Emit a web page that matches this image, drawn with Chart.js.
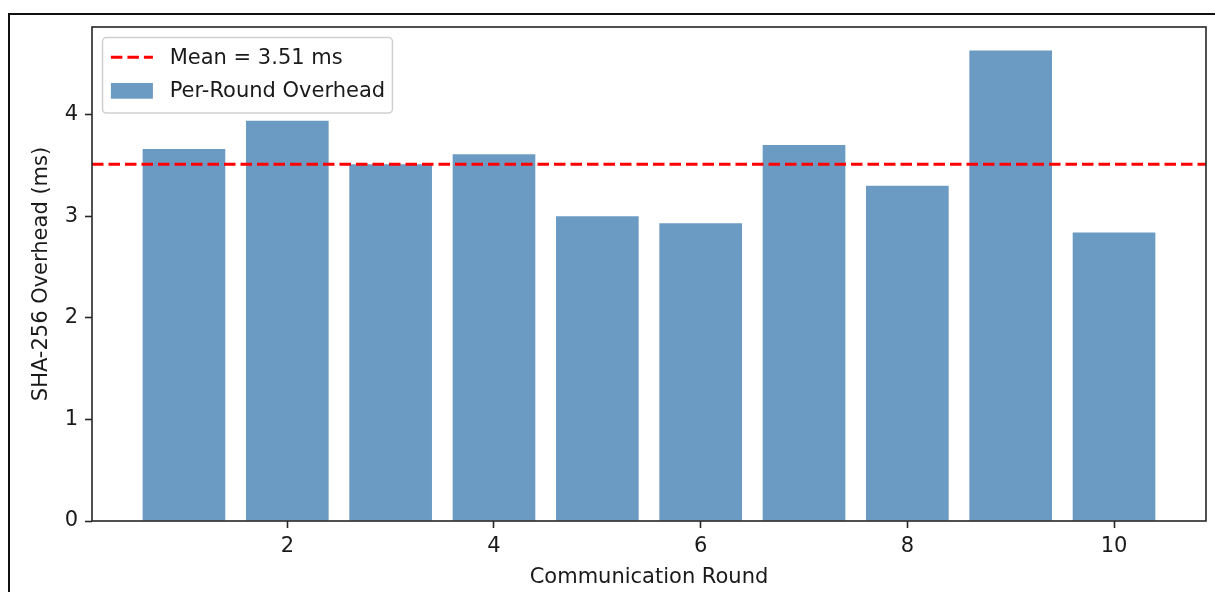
<!DOCTYPE html>
<html>
<head>
<meta charset="utf-8">
<title>SHA-256 Overhead per Communication Round</title>
<script src="https://cdn.jsdelivr.net/npm/chart.js@4.4.1/dist/chart.umd.min.js"></script>
<style>
  html, body { margin: 0; padding: 0; background: #ffffff; }
  #wrap { position: relative; width: 1215px; height: 592px; overflow: hidden; background: #ffffff; }
  #frame { position: absolute; left: 8px; top: 13px; width: 1400px; height: 800px;
           border-left: 2px solid #111111; border-top: 2px solid #111111; }
  #chart { position: absolute; left: 0; top: 0; }
</style>
</head>
<body>
<div id="wrap">
  <div id="frame"></div>
  <canvas id="chart" width="1215" height="592"></canvas>
</div>
<script>
// ---- data ----
const ROUNDS = [1, 2, 3, 4, 5, 6, 7, 8, 9, 10];
const OVERHEAD_MS = [3.66, 3.94, 3.51, 3.61, 3.00, 2.93, 3.70, 3.30, 4.63, 2.84];
const MEAN_MS = 3.51;
const X_TICKS = [2, 4, 6, 8, 10];
const Y_TICKS = [0, 1, 2, 3, 4];
const X_LABEL = 'Communication Round';
const Y_LABEL = 'SHA-256 Overhead (ms)';
const MEAN_LABEL = 'Mean = ' + MEAN_MS.toFixed(2) + ' ms';
const BAR_LABEL = 'Per-Round Overhead';

// ---- look ----
const FONT_FAMILY = "'DejaVu Sans', 'Liberation Sans', sans-serif";
const FONT_SIZE = 21;
const TEXT_COLOR = '#1a1a1a';
const SPINE_COLOR = '#262626';
const BAR_COLOR = 'rgba(70, 130, 180, 0.8)';
const MEAN_COLOR = '#ff0000';
const MEAN_DASH = [11.5, 5];
const BAR_WIDTH = 0.8;

// axis limits with a 5% margin around the data extent
const xLo = ROUNDS[0] - BAR_WIDTH / 2;
const xHi = ROUNDS[ROUNDS.length - 1] + BAR_WIDTH / 2;
const X_MIN = xLo - 0.05 * (xHi - xLo);
const X_MAX = xHi + 0.05 * (xHi - xLo);
const Y_MAX = Math.max(...OVERHEAD_MS) * 1.05;

const barPoints = ROUNDS.map((r, i) => ({ x: r, y: OVERHEAD_MS[i] }));
const meanPoints = [{ x: X_MIN, y: MEAN_MS }, { x: X_MAX, y: MEAN_MS }];

// full box around the plotting area
const axesFrame = {
  id: 'axesFrame',
  afterDatasetsDraw(chart) {
    const { ctx, chartArea: a } = chart;
    ctx.save();
    ctx.strokeStyle = SPINE_COLOR;
    ctx.lineWidth = 1.6;
    ctx.strokeRect(a.left, a.top, a.right - a.left, a.bottom - a.top);
    ctx.restore();
  }
};

// legend box in the upper-left corner of the plotting area
const cornerLegend = {
  id: 'cornerLegend',
  afterDraw(chart) {
    const { ctx, chartArea: a } = chart;
    const fs = FONT_SIZE;
    const entries = chart.data.datasets.map(ds => ds);
    ctx.save();
    ctx.font = fs + 'px ' + FONT_FAMILY;
    const textW = Math.max(...entries.map(ds => ctx.measureText(ds.label).width));
    const bx = a.left + 0.5 * fs;
    const by = a.top + 0.5 * fs;
    const bw = 0.4 * fs + 2 * fs + 0.8 * fs + textW + 0.35 * fs;
    const rowGap = 1.6 * fs;
    const bh = 0.95 * fs + rowGap * (entries.length - 1) + 0.95 * fs + 0.1 * fs;

    ctx.beginPath();
    ctx.roundRect(bx, by, bw, bh, 4);
    ctx.fillStyle = 'rgba(255,255,255,0.8)';
    ctx.fill();
    ctx.strokeStyle = '#d0d0d0';
    ctx.lineWidth = 1.5;
    ctx.stroke();

    const hx0 = bx + 0.4 * fs;
    const hx1 = hx0 + 2 * fs;
    const tx = hx1 + 0.8 * fs;
    entries.forEach((ds, i) => {
      const cy = by + 0.94 * fs + i * rowGap;
      if (ds.type === 'line') {
        ctx.beginPath();
        ctx.setLineDash(MEAN_DASH);
        ctx.strokeStyle = ds.borderColor;
        ctx.lineWidth = ds.borderWidth;
        ctx.moveTo(hx0, cy);
        ctx.lineTo(hx1, cy);
        ctx.stroke();
        ctx.setLineDash([]);
      } else {
        ctx.fillStyle = ds.backgroundColor;
        const hh = 0.75 * fs;
        ctx.fillRect(hx0, cy - hh / 2, hx1 - hx0, hh);
      }
      ctx.fillStyle = TEXT_COLOR;
      ctx.textAlign = 'left';
      ctx.textBaseline = 'middle';
      ctx.fillText(ds.label, tx, cy + 1);
    });
    ctx.restore();
  }
};

const tickFont = { family: FONT_FAMILY, size: FONT_SIZE };

new Chart(document.getElementById('chart'), {
  type: 'bar',
  data: {
    datasets: [
      {
        type: 'line',
        label: MEAN_LABEL,
        data: meanPoints,
        borderColor: MEAN_COLOR,
        borderWidth: 3,
        borderDash: MEAN_DASH,
        pointRadius: 0,
        fill: false,
        tension: 0
      },
      {
        type: 'bar',
        label: BAR_LABEL,
        data: barPoints,
        backgroundColor: BAR_COLOR,
        borderWidth: 0,
        categoryPercentage: 1,
        barPercentage: BAR_WIDTH
      }
    ]
  },
  options: {
    responsive: false,
    animation: false,
    events: [],
    layout: { padding: { top: 27, right: 9, left: 0, bottom: 0 } },
    plugins: {
      legend: { display: false },
      tooltip: { enabled: false },
      title: { display: false }
    },
    scales: {
      x: {
        type: 'linear',
        min: X_MIN,
        max: X_MAX,
        offset: false,
        afterBuildTicks: s => { s.ticks = X_TICKS.map(v => ({ value: v })); },
        afterFit: s => { s.height = 71; },
        border: { display: false },
        grid: { offset: false, drawOnChartArea: false, drawTicks: true, tickLength: 7, tickWidth: 1.6, tickColor: SPINE_COLOR },
        ticks: { font: tickFont, color: TEXT_COLOR, padding: 6, maxRotation: 0, autoSkip: false,
                 callback: v => String(v) },
        title: { display: true, text: X_LABEL, font: tickFont, color: TEXT_COLOR,
                 padding: { top: 0, bottom: 1.5 } }
      },
      y: {
        type: 'linear',
        min: 0,
        max: Y_MAX,
        afterBuildTicks: s => { s.ticks = Y_TICKS.map(v => ({ value: v })); },
        afterFit: s => { s.width = 92; },
        border: { display: false },
        grid: { drawOnChartArea: false, drawTicks: true, tickLength: 7, tickWidth: 1.6, tickColor: SPINE_COLOR },
        ticks: { font: tickFont, color: TEXT_COLOR, padding: 7, autoSkip: false,
                 callback: v => String(v) },
        title: { display: true, text: Y_LABEL, font: tickFont, color: TEXT_COLOR,
                 padding: { top: 28.5, bottom: 0 } }
      }
    }
  },
  plugins: [axesFrame, cornerLegend]
});
</script>
</body>
</html>
